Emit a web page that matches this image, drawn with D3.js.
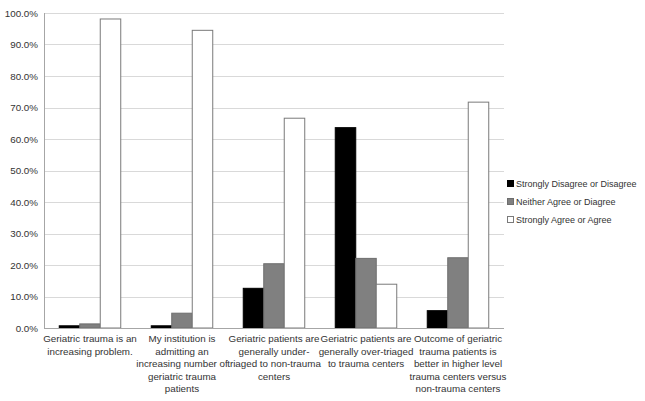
<!DOCTYPE html>
<meta charset="utf-8">
<style>
body { margin: 0; background: #fff; }
text { font-family: "Liberation Sans", Arial, sans-serif; fill: #333; }
.grid line { stroke: #d9d9d9; stroke-width: 1; }
</style>
<svg width="645" height="401"></svg>
<script src="https://cdn.jsdelivr.net/npm/d3@7"></script>
<script>
// category labels, already split into the lines used in the chart
var categories = [
  ["Geriatric trauma is an", "increasing problem."],
  ["My institution is", "admitting an", "increasing number of", "geriatric trauma", "patients"],
  ["Geriatric patients are", "generally under-", "triaged to non-trauma", "centers"],
  ["Geriatric patients are", "generally over-triaged", "to trauma centers"],
  ["Outcome of geriatric", "trauma patients is", "better in higher level", "trauma centers versus", "non-trauma centers"]
];
var seriesNames = ["Strongly Disagree or Disagree", "Neither Agree or Diagree", "Strongly Agree or Agree"];
var disagree = [0.7, 0.7, 12.6, 63.6, 5.5];
var neither = [1.3, 4.7, 20.4, 22.1, 22.3];
var agree = [98.1, 94.5, 66.6, 13.9, 71.7];
var yTicks = [0, 10, 20, 30, 40, 50, 60, 70, 80, 90, 100];

var fills = ["#000000", "#808080", "#ffffff"];
var strokes = ["#000000", "#6e6e6e", "#7a7a7a"];

var svg = d3.select("svg"),
    margin = {top: 13, right: 141, bottom: 73, left: 44},
    width = 645 - margin.left - margin.right,
    height = 401 - margin.top - margin.bottom,
    g = svg.append("g").attr("transform", "translate(" + margin.left + "," + margin.top + ")");

var keys = categories.map(function(d, i) { return i; });
var values = [disagree, neither, agree];

var x0 = d3.scaleBand().domain(keys).range([0, width]).paddingInner(0).paddingOuter(0);
var x1 = d3.scaleBand().domain([0, 1, 2]).range([0, x0.bandwidth()]).paddingInner(0).paddingOuter(0.744);
var y = d3.scaleLinear().domain([0, 100]).range([height, 0]);

// gridlines
g.append("g")
    .attr("class", "grid")
  .selectAll("line")
  .data(yTicks.slice(1))
  .enter().append("line")
    .attr("x1", 0)
    .attr("x2", width)
    .attr("y1", function(d) { return Math.round(y(d)) + 0.5; })
    .attr("y2", function(d) { return Math.round(y(d)) + 0.5; });

// y axis labels
var yAxis = g.append("g")
    .call(d3.axisLeft(y).tickValues(yTicks).tickSize(0).tickPadding(6)
      .tickFormat(function(d) { return d.toFixed(1) + "%"; }));
yAxis.select(".domain").remove();
yAxis.selectAll("text").style("font-size", "9.8px").attr("fill", "#333");

// bars
var group = g.selectAll(".cat")
  .data(keys)
  .enter().append("g")
    .attr("class", "cat")
    .attr("transform", function(d) { return "translate(" + x0(d) + ",0)"; });

group.selectAll("rect")
  .data(function(c) { return [0, 1, 2].map(function(s) { return {s: s, v: values[s][c]}; }); })
  .enter().append("rect")
    .attr("x", function(d) { return x1(d.s); })
    .attr("y", function(d) { return y(d.v); })
    .attr("width", x1.bandwidth())
    .attr("height", function(d) { return height - y(d.v); })
    .attr("fill", function(d) { return fills[d.s]; })
    .attr("stroke", function(d) { return strokes[d.s]; })
    .attr("stroke-width", 1);

// axis lines
g.append("line")
    .attr("x1", 0.5).attr("x2", 0.5)
    .attr("y1", 0).attr("y2", height)
    .attr("stroke", "#a6a6a6");
g.append("line")
    .attr("x1", 0).attr("x2", width)
    .attr("y1", height + 0.5).attr("y2", height + 0.5)
    .attr("stroke", "#a6a6a6");

// category labels
group.append("text")
    .attr("text-anchor", "middle")
    .style("font-size", "9.8px")
    .selectAll("tspan")
    .data(function(c) { return categories[c]; })
    .enter().append("tspan")
      .attr("x", x0.bandwidth() / 2)
      .attr("y", function(d, i) { return height + 14 + i * 12.6; })
      .text(function(d) { return d; });

// legend
var legend = svg.append("g")
    .attr("transform", "translate(507,184)")
  .selectAll("g")
  .data(seriesNames)
  .enter().append("g")
    .attr("transform", function(d, i) { return "translate(0," + i * 18 + ")"; });

legend.append("rect")
    .attr("x", 0.5).attr("y", -3.5)
    .attr("width", 6).attr("height", 6)
    .attr("fill", function(d, i) { return fills[i]; })
    .attr("stroke", function(d, i) { return strokes[i]; });

legend.append("text")
    .attr("x", 9)
    .attr("dy", "0.35em")
    .style("font-size", "9px")
    .text(function(d) { return d; });
</script>
